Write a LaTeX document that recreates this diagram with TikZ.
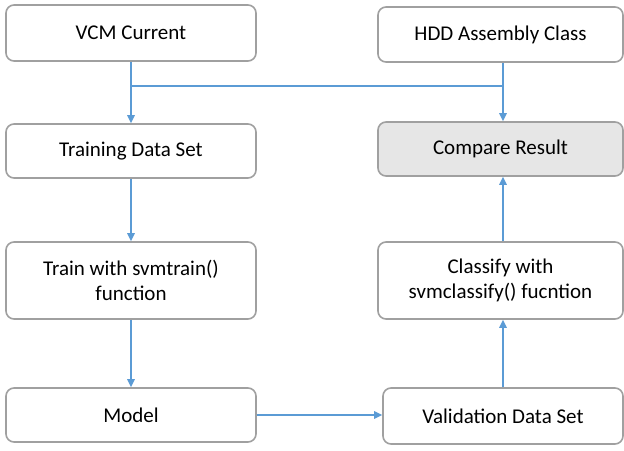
\documentclass[tikz,border=0pt]{standalone}
\usepackage{fontspec}
\setmainfont{Carlito}
\usetikzlibrary{arrows.meta,calc}
\definecolor{boxline}{HTML}{A0A0A0}
\definecolor{arrowblue}{HTML}{5B9BD5}
\definecolor{graybox}{HTML}{E6E6E6}
\begin{document}
\begin{tikzpicture}[x=1pt,y=-1pt,
  box/.style={draw=boxline, line width=1.6pt, rounded corners=8pt, fill=white,
    inner sep=0pt, align=center, font=\fontsize{21}{24.5}\selectfont},
  conn/.style={draw=arrowblue, line width=1.5pt},
  arr/.style={conn, -{Triangle[length=8pt,width=7.5pt]}}]
\useasboundingbox (0,0) rectangle (624,450);
\node[box, minimum width=250pt, minimum height=56pt] (vcm) at (131,33) {VCM Current};
\node[box, minimum width=245pt, minimum height=55pt] (hdd) at (500.5,34.5) {HDD Assembly Class};
\node[box, minimum width=250pt, minimum height=54pt] (training) at (131,151) {Training Data Set};
\node[box, fill=graybox, minimum width=245pt, minimum height=54pt] (compare) at (500.5,149) {Compare Result};
\node[box, minimum width=250pt, minimum height=77pt] (trainfn) at (131,280.5) {Train with svmtrain()\\function};
\node[box, minimum width=245pt, minimum height=77pt] (classify) at (500.5,280.5) {Classify with\\svmclassify() fucntion};
\node[box, minimum width=250pt, minimum height=54pt] (model) at (131,415) {Model};
\node[box, minimum width=240pt, minimum height=56pt] (validation) at (503,416) {Validation Data Set};
\coordinate (j1) at (131,86);
\coordinate (j2) at (503,86);
\draw[conn] (hdd.south -| j2) -- (j2) -- (j1);
\draw[arr] (vcm) -- (training);
\draw[arr] (j2) -- (compare.north -| j2);
\draw[arr] (training) -- (trainfn);
\draw[arr] (trainfn) -- (model);
\draw[arr] (model.east) -- (model.east -| validation.west);
\draw[arr] (validation.north) -- (validation.north |- classify.south);
\draw[arr] (classify.north -| j2) -- (compare.south -| j2);
\end{tikzpicture}
\end{document}
